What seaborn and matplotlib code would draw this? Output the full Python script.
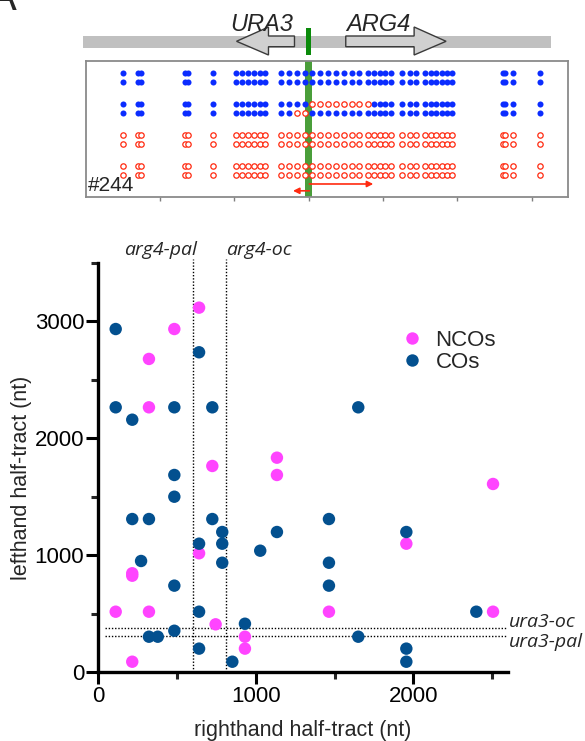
import numpy as np
import pandas as pd
import matplotlib
matplotlib.use("Agg")
import matplotlib.pyplot as plt
import seaborn as sns
from matplotlib.patches import Polygon, Rectangle
from matplotlib.ticker import MultipleLocator

# ---------------- scatter data (nt) ----------------
nco_right = [483, 322, 640, 322, 1134, 1134, 724, 2505, 1955, 640, 216, 216,
             111, 322, 1464, 2505, 745, 931, 931, 216]
nco_left = [2935, 2679, 3118, 2265, 1834, 1686, 1763, 1609, 1098, 1016, 845, 824,
            516, 516, 516, 516, 408, 302, 200, 88]

co_right = [111, 640, 111, 216, 483, 724, 1650, 483, 483, 216, 322, 724, 1464,
            787, 1134, 1955, 640, 787, 1028, 272, 787, 1464, 483, 1464, 640, 2399,
            931, 483, 322, 378, 1650, 640, 1955, 851, 1955]
co_left = [2935, 2736, 2265, 2159, 2265, 2265, 2265, 1686, 1500, 1309, 1309, 1309, 1309,
           1198, 1198, 1198, 1098, 1098, 1038, 950, 935, 935, 739, 739, 516, 516,
           413, 353, 302, 302, 302, 200, 200, 88, 88]

# marker alleles (nt from DSB)
arg4_marks = {"arg4-pal": 600, "arg4-oc": 810}
ura3_marks = {"ura3-oc": 380, "ura3-pal": 305}

# ---------------- top panel data (kb) ----------------
snp_kb = [0.50, 0.71, 0.75, 1.34, 1.38, 1.71, 2.02, 2.10, 2.18, 2.26, 2.34, 2.41,
          2.63, 2.73, 2.84, 2.95, 3.05, 3.16, 3.26, 3.37, 3.47, 3.58, 3.68, 3.80,
          3.88, 3.96, 4.03, 4.11, 4.26, 4.36, 4.44, 4.57, 4.65, 4.72, 4.79, 4.86,
          4.93, 5.61, 5.64, 5.75, 6.12]
row_parent = ["B", "B", "B", "B", "R", "R", "R", "R"]
row_tracts = {2: (3.00, 3.85), 3: (2.80, 3.00)}
dsb_kb = 3.0
halftract_left_end = 2.79
halftract_right_end = 3.87
chrom_span = (-0.03, 6.26)
gene_names = ["URA3", "ARG4"]
gene_start = [2.81, 3.50]
gene_end = [2.03, 4.85]
event_id = "#244"

# ---------------- style ----------------
sns.set_theme(style="white")
plt.rcParams["font.family"] = ["Liberation Sans", "DejaVu Sans"]

W, H = 585, 741
fig = plt.figure(figsize=(W / 100, H / 100), dpi=100)

def px_axes(x0, x1, y0, y1):
    return fig.add_axes([x0 / W, 1 - y1 / H, (x1 - x0) / W, (y1 - y0) / H])

blue_dot = "#0b2cff"
red_dot = "#ff2a10"
kb_max = 6.487

# ---- gene map ----
gax = px_axes(85.7, 567.7, 10, 60)
gax.set_xlim(0, kb_max)
gax.set_ylim(60, 10)
gax.axis("off")
gax.add_patch(Rectangle((chrom_span[0], 36), chrom_span[1] - chrom_span[0], 11.7,
                        color="#c0c0c0", lw=0, clip_on=False, zorder=1))
head_len = 0.43
for name, s, e in zip(gene_names, gene_start, gene_end):
    d = np.sign(e - s)
    h = e - d * head_len
    pts = [(s, 36), (h, 36), (h, 27), (e, 41.3), (h, 55), (h, 46.7), (s, 46.7)]
    gax.add_patch(Polygon(pts, closed=True, facecolor="#d0d0d0", edgecolor="#3a3a3a",
                          lw=1.0, clip_on=False, zorder=2))
    gax.text(s - 0.02 if d < 0 else s, 24.5, name, ha="right" if d < 0 else "left",
             va="center", fontsize=17, style="italic", zorder=4)
gax.add_patch(Rectangle((dsb_kb - 0.038, 28.3), 0.076, 26.7, color="#0a8a0a",
                        lw=0, zorder=3))

# ---- genotype box ----
bax = px_axes(85.7, 567.7, 60.7, 196.7)
bax.set_xlim(0, kb_max)
bax.set_ylim(4.0, -0.387)
row_y = [0, 0.3, 1.0, 1.3, 2.0, 2.3, 3.0, 3.29]
for i, (y, par) in enumerate(zip(row_y, row_parent)):
    snp = np.array(snp_kb)
    red = np.full(len(snp), par == "R")
    if i in row_tracts:
        lo, hi = row_tracts[i]
        red[(snp > lo) & (snp < hi)] = True
    bax.scatter(snp[~red], np.full((~red).sum(), y), s=19, color=blue_dot, lw=0, zorder=3)
    bax.scatter(snp[red], np.full(red.sum(), y), s=15, facecolors="white",
                edgecolors=red_dot, lw=0.9, zorder=3)
bax.axvspan(dsb_kb - 0.05, dsb_kb + 0.05, color="#4a9e3a", lw=0, zorder=1)
bax.annotate("", xy=(halftract_right_end, 3.59), xytext=(dsb_kb + 0.01, 3.59),
             arrowprops=dict(arrowstyle="-|>", color=red_dot, lw=1.2,
                             mutation_scale=9, shrinkA=0, shrinkB=0), zorder=4)
bax.annotate("", xy=(halftract_left_end, 3.81), xytext=(dsb_kb + 0.01, 3.81),
             arrowprops=dict(arrowstyle="-|>", color=red_dot, lw=1.2,
                             mutation_scale=9, shrinkA=0, shrinkB=0), zorder=4)
bax.text(0.005, 0.086, event_id, transform=bax.transAxes, ha="left", va="center",
         fontsize=15)
bax.set_xticks(range(1, 7))
bax.set_yticks([])
bax.tick_params(axis="x", direction="out", length=3, width=1, color="#7f7f7f",
                labelbottom=False, bottom=True)
for sp in bax.spines.values():
    sp.set_color("#8a8a8a")
    sp.set_linewidth(1.3)

# ---- scatter ----
df = pd.DataFrame({
    "right": nco_right + co_right,
    "left": nco_left + co_left,
    "type": ["NCOs"] * len(nco_right) + ["COs"] * len(co_right),
})
ax = px_axes(98.2, 508.0, 263, 672)
sns.scatterplot(data=df, x="right", y="left", hue="type",
                palette={"NCOs": "#ff44ff", "COs": "#03508f"},
                s=80, linewidth=0, ax=ax, zorder=3, clip_on=False)
ax.set_xlim(0, 2600)
ax.set_ylim(0, 3500)
ax.xaxis.set_major_locator(MultipleLocator(1000))
ax.xaxis.set_minor_locator(MultipleLocator(500))
ax.yaxis.set_major_locator(MultipleLocator(1000))
ax.yaxis.set_minor_locator(MultipleLocator(500))
ax.tick_params(which="major", direction="out", length=8.5, width=2.2, labelsize=16,
               pad=1.5, colors="black", bottom=True, left=True)
ax.tick_params(which="minor", direction="out", length=5.2, width=2.2,
               bottom=True, left=True)
for side in ["top", "right"]:
    ax.spines[side].set_visible(False)
for side in ["left", "bottom"]:
    ax.spines[side].set_linewidth(2.4)
    ax.spines[side].set_color("black")

ax.set_xlabel("righthand half-tract (nt)", fontsize=15.5)
ax.set_ylabel("lefthand half-tract (nt)", fontsize=15.5)
ax.xaxis.set_label_coords(0.5, -0.144)
ax.xaxis.label.set_va("center")
ax.yaxis.set_label_coords(-0.186, 0.474)
ax.yaxis.label.set_va("center")

dot = (0, (1, 1.3))
lab_font = dict(fontsize=14, style="italic", family=["Open Sans", "DejaVu Sans"])
for name, x in arg4_marks.items():
    ax.vlines(x, 0, 3535, colors="black", linestyles=[dot], lw=1, clip_on=False, zorder=2)
ax.text(arg4_marks["arg4-pal"] + 28, 3611, "arg4-pal", ha="right", va="center", **lab_font)
ax.text(arg4_marks["arg4-oc"], 3611, "arg4-oc", ha="left", va="center", **lab_font)
for name, y in ura3_marks.items():
    ax.hlines(y, 43, 2585, colors="black", linestyles=[dot], lw=1, clip_on=False, zorder=2)
ax.text(2603, 430, "ura3-oc", ha="left", va="center", **lab_font)
ax.text(2603, 255, "ura3-pal", ha="left", va="center", **lab_font)

leg = ax.legend(loc="upper left", bbox_to_anchor=(0.739, 0.836), frameon=False,
                fontsize=16, handlelength=1.0, handletextpad=0.55, labelspacing=0.05,
                borderpad=0, borderaxespad=0, markerscale=1.0)

fig.text(3 / W, 1 - 10 / H, "A", ha="center", va="baseline", fontsize=30)

fig.savefig("out.png", dpi=100)
